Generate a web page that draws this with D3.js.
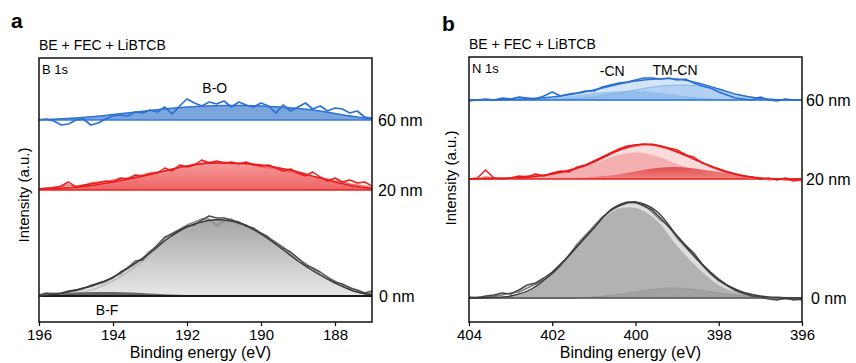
<!DOCTYPE html>
<html>
<head>
<meta charset="utf-8">
<script src="https://cdn.jsdelivr.net/npm/d3@7"></script>
<style>
  body { margin: 0; background: #fff; }
  text { font-family: "Liberation Sans", Arial, sans-serif; }
</style>
</head>
<body>
<div id="chart"></div>
<script>
// ---- panel a : B 1s ----
var eA = [196.0,195.8,195.6,195.4,195.2,195.0,194.8,194.6,194.4,194.2,194.0,193.8,193.6,193.4,193.2,193.0,192.8,192.6,192.4,192.2,192.0,191.8,191.6,191.4,191.2,191.0,190.8,190.6,190.4,190.2,190.0,189.8,189.6,189.4,189.2,189.0,188.8,188.6,188.4,188.2,188.0,187.8,187.6,187.4,187.2,187.0];
var eAfit = [196,195.5,195,194.5,194,193.5,193,192.5,192,191.5,191,190.5,190,189.5,189,188.5,188,187.5,187];

var a60Raw = [0,1,-1,-5,-4,0,1,-5,-3,1,4,5,4,8,7,10,8,13,6,14,21,17,14,18,16,19,13,18,15,13,17,14,7,15,9,13,17,11,14,9,12,11,7,9,3,2];
var a60Fit = [0.5,1,2,3.5,5.5,7.5,9.5,11.5,13,14,14.5,14.5,14,13,11.5,9.5,6.5,3.5,1];

var a20Raw = [1,2,2,4,8,3,5,6,7,9,8,12,11,15,14,16,17,22,19,25,23,25,30,27,29,27,28,26,28,25,24,25,22,19,21,17,14,18,13,9,12,8,10,7,8,4];
var a20Raw2 = [0,1,3,3,5,4,4,7,8,8,10,11,12,13,15,17,18,19,21,23,24,26,27,28,27,28,26,27,26,26,23,22,21,20,18,16,15,13,12,11,9,8,6,5,4,2];
var a20Fit = [0.5,1.5,3,5,8,11.5,15.5,20,24,26.5,27,26.5,25,22,18,13,8,4,1.5];

var a0Raw = [1,3,2,3,5,6,8,10,13,15,18,24,28,35,36,44,51,59,62,66,70,71,76,80,78,78,76,74,70,68,63,59,53,48,44,38,31,28,24,19,14,12,8,6,3,5];
var a0Raw2 = [0,2,3,2,4,5,7,11,12,14,19,22,29,33,38,45,49,57,63,67,71,74,77,77,70,75,77,72,71,66,62,57,54,49,42,37,33,27,22,18,15,11,9,5,2,3];
var a0Fit = [0.5,2,6,11,19,30,43,58,69,75,76,72,62,49,35,23,13,5,1];
var a0BO = [0,0,2.5,7,15,26.5,40.5,56.5,68,74.5,75.7,72,62,49,35,23,13,5,1];
var a0BF = [0.5,2,3.5,4,4,3.5,2.5,1.5,1,0.5,0.3,0,0,0,0,0,0,0,0];

// ---- panel b : N 1s ----
var eB = [404.0,403.8,403.6,403.4,403.2,403.0,402.8,402.6,402.4,402.2,402.0,401.8,401.6,401.4,401.2,401.0,400.8,400.6,400.4,400.2,400.0,399.8,399.6,399.4,399.2,399.0,398.8,398.6,398.4,398.2,398.0,397.8,397.6,397.4,397.2,397.0,396.8,396.6,396.4,396.2,396.0];
var eBfit = [404,403.5,403,402.5,402,401.5,401,400.5,400,399.5,399,398.5,398,397.5,397,396.5,396];

var b60Raw = [-1,0,1,0,2,1,3,2,1,4,8,4,6,7,9,9,13,15,17,18,20,22,22,21,22,20,21,17,14,12,8,5,2,1,0,3,0,-1,1,0,0];
var b60Fit = [0,0,0.5,1.5,3,6,10,15,19,21,21,17,11,5,1.5,0.3,0];
var b60CN = [0,0,0,1,2.5,4.5,7,8.5,9,7.5,5,2.5,1,0.3,0,0,0];
var b60TM = [0,0,0,0,0.5,1.5,3,6.5,10,13.5,15,14,10,5,1.5,0.3,0];

var b20Raw = [0,1,9,1,0,1,3,2,5,3,6,8,7,12,14,18,22,26,30,33,34,35,34,33,31,29,24,22,16,13,10,7,5,3,2,0,1,-1,1,-2,0];
var b20Raw2 = [0,0,2,1,1,0,2,3,3,4,5,7,9,11,13,17,21,25,29,31,33,34,35,32,30,27,25,20,17,12,9,6,4,2,1,1,-1,0,-1,-1,-2];
var b20Fit = [0,0.5,1,2,5,9.5,17,27,34,34,27,18,10,4,1,0.3,0];
var b20CN = [0,0,1,2,4.5,9,15,23,26.5,23,15,8,3,1,0.3,0,0];
var b20TM = [0,0,0,0,0,0.5,2,4,7.5,11,12,10,7,3,0.7,0,0];

var b0Raw = [1,0,2,3,5,4,8,13,15,20,26,34,42,52,61,70,80,88,92,95,96,92,88,80,71,62,53,45,34,26,19,13,8,5,2,1,-1,-2,0,-2,-1];
var b0Raw2 = [0,1,1,2,3,5,6,10,14,18,24,32,43,54,63,72,81,87,93,96,95,93,86,78,72,60,51,42,33,24,17,12,7,4,2,0,0,-1,-1,-1,-2];
var b0Fit = [0,0.5,2,9,25,47,70,91,96,87,62,38,18,7,2,0.5,0];
var b0Main = [0,0.5,2,9,25,47,69,88,90,78,52,30,13,4.5,1,0.2,0];
var b0Small = [0,0,0,0,0,0,1,3,6,9,10,8,5,2.5,1,0.3,0];

var ticksA = [196,194,192,190,188];
var ticksB = [404,402,400,398,396];

var W = 856, H = 363;
var svg = d3.select("#chart").append("svg").attr("width", W).attr("height", H);
var defs = svg.append("defs");

function grad(id, top, bottom) {
    var lg = defs.append("linearGradient").attr("id", id)
        .attr("x1", 0).attr("y1", 0).attr("x2", 0).attr("y2", 1);
    lg.append("stop").attr("offset", "0%").attr("stop-color", top);
    lg.append("stop").attr("offset", "100%").attr("stop-color", bottom);
    return "url(#" + id + ")";
}

var gA20 = grad("gA20", "#f59a9a", "#ee6464");
var gA0 = grad("gA0", "#a6a6a6", "#e8e8e8");
var gB20 = grad("gB20", "#e03c3c", "#f07a7a");

var smooth = d3.curveCatmullRom.alpha(0.5);

function panel(opt) {
    var x = d3.scaleLinear().domain(opt.xDomain).range([opt.left, opt.right]);
    var y = d3.scaleLinear().domain(opt.yDomain).range([opt.bottom, opt.top]);
    var g = svg.append("g");

    defs.append("clipPath").attr("id", "clip-" + opt.id)
        .append("rect")
        .attr("x", opt.left).attr("y", opt.top)
        .attr("width", opt.right - opt.left).attr("height", opt.bottom - opt.top);
    var plot = g.append("g").attr("clip-path", "url(#clip-" + opt.id + ")");

    opt.spectra.forEach(function(s) {
        var area = d3.area()
            .x(function(d, i) { return x(opt.eFit[i]); })
            .y0(y(s.offset))
            .y1(function(d) { return y(s.offset + d); })
            .curve(smooth);
        var fitLine = d3.line()
            .x(function(d, i) { return x(opt.eFit[i]); })
            .y(function(d) { return y(s.offset + d); })
            .curve(smooth);
        var rawLine = d3.line()
            .x(function(d, i) { return x(opt.eRaw[i]); })
            .y(function(d) { return y(s.offset + d); });

        s.fills.forEach(function(f) {
            plot.append("path").attr("d", area(f.values))
                .attr("fill", f.fill).attr("fill-opacity", f.opacity || 1)
                .attr("stroke", f.stroke || "none").attr("stroke-width", f.sw || 1);
        });

        plot.append("line")
            .attr("x1", opt.left).attr("x2", opt.right)
            .attr("y1", y(s.offset)).attr("y2", y(s.offset))
            .attr("stroke", s.baseColor).attr("stroke-width", s.baseWidth || 1.5);

        s.raws.forEach(function(r) {
            plot.append("path").attr("d", rawLine(r.values))
                .attr("fill", "none").attr("stroke", r.color)
                .attr("stroke-width", r.width || 1.6).attr("stroke-linejoin", "round");
        });

        plot.append("path").attr("d", fitLine(s.fit))
            .attr("fill", "none").attr("stroke", s.fitColor).attr("stroke-width", 1.4);

        g.append("text")
            .attr("x", opt.right + s.labelDx).attr("y", y(s.offset) + 5.5)
            .attr("font-size", 16).attr("fill", "#000").text(s.label);
    });

    // peak labels
    opt.peaks.forEach(function(p) {
        g.append("text").attr("x", x(p.e)).attr("y", y(p.v))
            .attr("text-anchor", "middle").attr("font-size", 14).text(p.text);
    });

    // x axis
    var axis = d3.axisBottom(x).tickValues(opt.ticks).tickSize(4).tickPadding(3)
        .tickFormat(d3.format("d"));
    var ax = g.append("g").attr("transform", "translate(0," + opt.bottom + ")").call(axis);
    ax.select(".domain").remove();
    ax.selectAll(".tick line").attr("stroke", "#000").attr("stroke-width", 1.2);
    ax.selectAll(".tick text").attr("font-size", 15).attr("fill", "#000")
        .style("font-family", '"Liberation Sans", Arial, sans-serif');

    // frame
    g.append("rect")
        .attr("x", opt.left).attr("y", opt.top)
        .attr("width", opt.right - opt.left).attr("height", opt.bottom - opt.top)
        .attr("fill", "none").attr("stroke", "#111").attr("stroke-width", 1.5);

    g.append("text")
        .attr("x", (opt.left + opt.right) / 2 - 5).attr("y", opt.bottom + 36)
        .attr("text-anchor", "middle").attr("font-size", 16).text("Binding energy (eV)");

    g.append("text")
        .attr("transform", "translate(" + opt.yTitleX + "," + opt.yTitleY + ") rotate(-90)")
        .attr("text-anchor", "middle").attr("font-size", 15).text("Intensity (a.u.)");

    g.append("text").attr("x", opt.left).attr("y", opt.top - 8)
        .attr("font-size", 14).text("BE + FEC + LiBTCB");
    g.append("text").attr("x", opt.left + 3).attr("y", opt.top + 16)
        .attr("font-size", 13).text(opt.core);
    g.append("text").attr("x", opt.letterX).attr("y", opt.letterY)
        .attr("font-size", 21).attr("font-weight", "bold").text(opt.letter);
}

panel({
    id: "a", letter: "a", letterX: 11, letterY: 28, core: "B 1s",
    left: 39, right: 372, top: 58, bottom: 322,
    xDomain: [196, 187], yDomain: [-26, 238], ticks: ticksA,
    eRaw: eA, eFit: eAfit, yTitleX: 29, yTitleY: 195,
    peaks: [{ e: 191.25, v: 203, text: "B-O" }, { e: 194.16, v: -19, text: "B-F" }],
    spectra: [
        { offset: 176, label: "60 nm", labelDx: 6, baseColor: "#3a7bd5", fitColor: "#2f72d0",
          fills: [{ values: a60Fit, fill: "#6c9bd9", opacity: 0.9 }],
          raws: [{ values: a60Raw, color: "#2a70d6", width: 1.7 }],
          fit: a60Fit },
        { offset: 106, label: "20 nm", labelDx: 6, baseColor: "#ee2222", fitColor: "#e81c1c",
          fills: [{ values: a20Fit, fill: gA20 }],
          raws: [{ values: a20Raw2, color: "#f26a6a", width: 1.4 }, { values: a20Raw, color: "#f01a1a", width: 1.5 }],
          fit: a20Fit },
        { offset: 0, label: "0 nm", labelDx: 7, baseColor: "#1a1a1a", baseWidth: 2.2, fitColor: "#3a3a3a",
          fills: [{ values: a0Fit, fill: gA0 },
                  { values: a0BO, fill: "none", stroke: "#b5b5b5", sw: 1.2 },
                  { values: a0BF, fill: "#555555", opacity: 0.9 }],
          raws: [{ values: a0Raw2, color: "#8c8c8c", width: 1.4 }, { values: a0Raw, color: "#505050", width: 1.5 }],
          fit: a0Fit }
    ]
});

panel({
    id: "b", letter: "b", letterX: 442, letterY: 31, core: "N 1s",
    left: 469, right: 802, top: 57, bottom: 322,
    xDomain: [404, 396], yDomain: [-24, 241], ticks: ticksB,
    eRaw: eB, eFit: eBfit, yTitleX: 456, yTitleY: 178,
    peaks: [{ e: 400.56, v: 222, text: "-CN" }, { e: 399.05, v: 223, text: "TM-CN" }],
    spectra: [
        { offset: 198, label: "60 nm", labelDx: 4, baseColor: "#2f78d8", fitColor: "#2a6fcf",
          fills: [{ values: b60Fit, fill: "#d4e5f7" },
                  { values: b60TM, fill: "#a9cbef", opacity: 0.8, stroke: "#8bb6e8", sw: 1 },
                  { values: b60CN, fill: "#7fb0e6", opacity: 0.6 }],
          raws: [{ values: b60Raw, color: "#2a72d8", width: 1.7 }],
          fit: b60Fit },
        { offset: 119, label: "20 nm", labelDx: 4, baseColor: "#ee1c1c", fitColor: "#e81818",
          fills: [{ values: b20Fit, fill: "#fbdcdc" },
                  { values: b20CN, fill: "#f3abab", opacity: 0.9 },
                  { values: b20TM, fill: gB20, opacity: 0.85 }],
          raws: [{ values: b20Raw2, color: "#f36b6b", width: 1.4 }, { values: b20Raw, color: "#ee1c1c", width: 1.5 }],
          fit: b20Fit },
        { offset: 0, label: "0 nm", labelDx: 9, baseColor: "#555555", fitColor: "#3a3a3a",
          fills: [{ values: b0Fit, fill: "#dddddd" },
                  { values: b0Main, fill: "#b2b2b2" },
                  { values: b0Small, fill: "#9e9e9e", opacity: 0.8, stroke: "#999999", sw: 1 }],
          raws: [{ values: b0Raw2, color: "#7a7a7a", width: 1.4 }, { values: b0Raw, color: "#4a4a4a", width: 1.5 }],
          fit: b0Fit }
    ]
});
</script>
</body>
</html>
